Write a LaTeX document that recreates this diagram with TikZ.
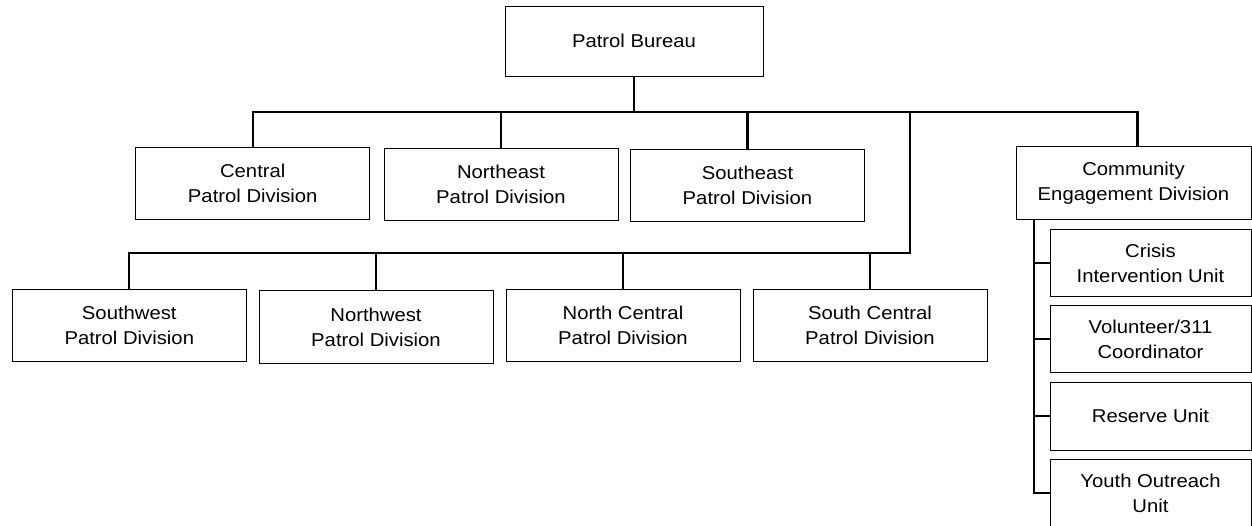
\documentclass[tikz,border=0pt]{standalone}
\usepackage{fontspec}
\setmainfont{Liberation Sans}[FakeStretch=1.09]
\usepackage{tikz}
\tikzstyle{unit} = [draw, line width=1, align=center, inner sep=0, minimum width=234, minimum height=72.5, font=\fontsize{18.6}{25}\selectfont]
\tikzstyle{subunit} = [unit, minimum width=201, minimum height=67.4]
\tikzstyle{link} = [draw, line width=2.2]

\begin{document}
\begin{tikzpicture}[x=1pt, y=-1pt]
\clip (0, 0) rectangle (1252, 525);

\node [unit, minimum width=258, minimum height=70] at (634, 41) (bureau) {Patrol Bureau};

\node [unit] at (252.75, 183.3) (central) {Central\\Patrol Division};
\node [unit] at (501, 184.3) (northeast) {Northeast\\Patrol Division};
\node [unit] at (747.5, 185.3) (southeast) {Southeast\\Patrol Division};
\node [unit, minimum width=235] at (1133.5, 183) (community) {Community\\Engagement Division};

\node [unit] at (129.3, 325.3) (southwest) {Southwest\\Patrol Division};
\node [unit] at (376, 327) (northwest) {Northwest\\Patrol Division};
\node [unit] at (623, 325.3) (northcentral) {North Central\\Patrol Division};
\node [unit] at (870, 325.3) (southcentral) {South Central\\Patrol Division};

\node [subunit] at (1150.5, 263) (crisis) {Crisis\\Intervention Unit};
\node [subunit] at (1150.5, 339) (volunteer) {Volunteer/311\\Coordinator};
\node [subunit] at (1150.5, 416.3) (reserve) {Reserve Unit};
\node [subunit] at (1150.5, 493.3) (youth) {Youth Outreach\\Unit};

\coordinate (topbus) at (0, 111.7);
\coordinate (split) at (910, 111.7);
\coordinate (lowbus) at (0, 253.3);
\coordinate (spine) at (1034, 0);
\coordinate (cdrop) at ([xshift=4]community.north);

% upper level
\path [link] (bureau.south) to (bureau.south |- topbus);
\path [link] (central.north) |- (topbus -| cdrop) to (cdrop);
\foreach \n in {northeast, southeast}
  \path [link] (\n.north) to (\n.north |- topbus);

% lower level
\path [link] (split) |- (southwest.north |- lowbus) to (southwest.north);
\foreach \n in {northwest, northcentral, southcentral}
  \path [link] (\n.north) to (\n.north |- lowbus);

% community units
\path [link] (community.south -| spine) to (youth.west -| spine) to (youth.west);
\foreach \n in {crisis, volunteer, reserve}
  \path [link] (\n.west) to (\n.west -| spine);
\end{tikzpicture}
\end{document}
